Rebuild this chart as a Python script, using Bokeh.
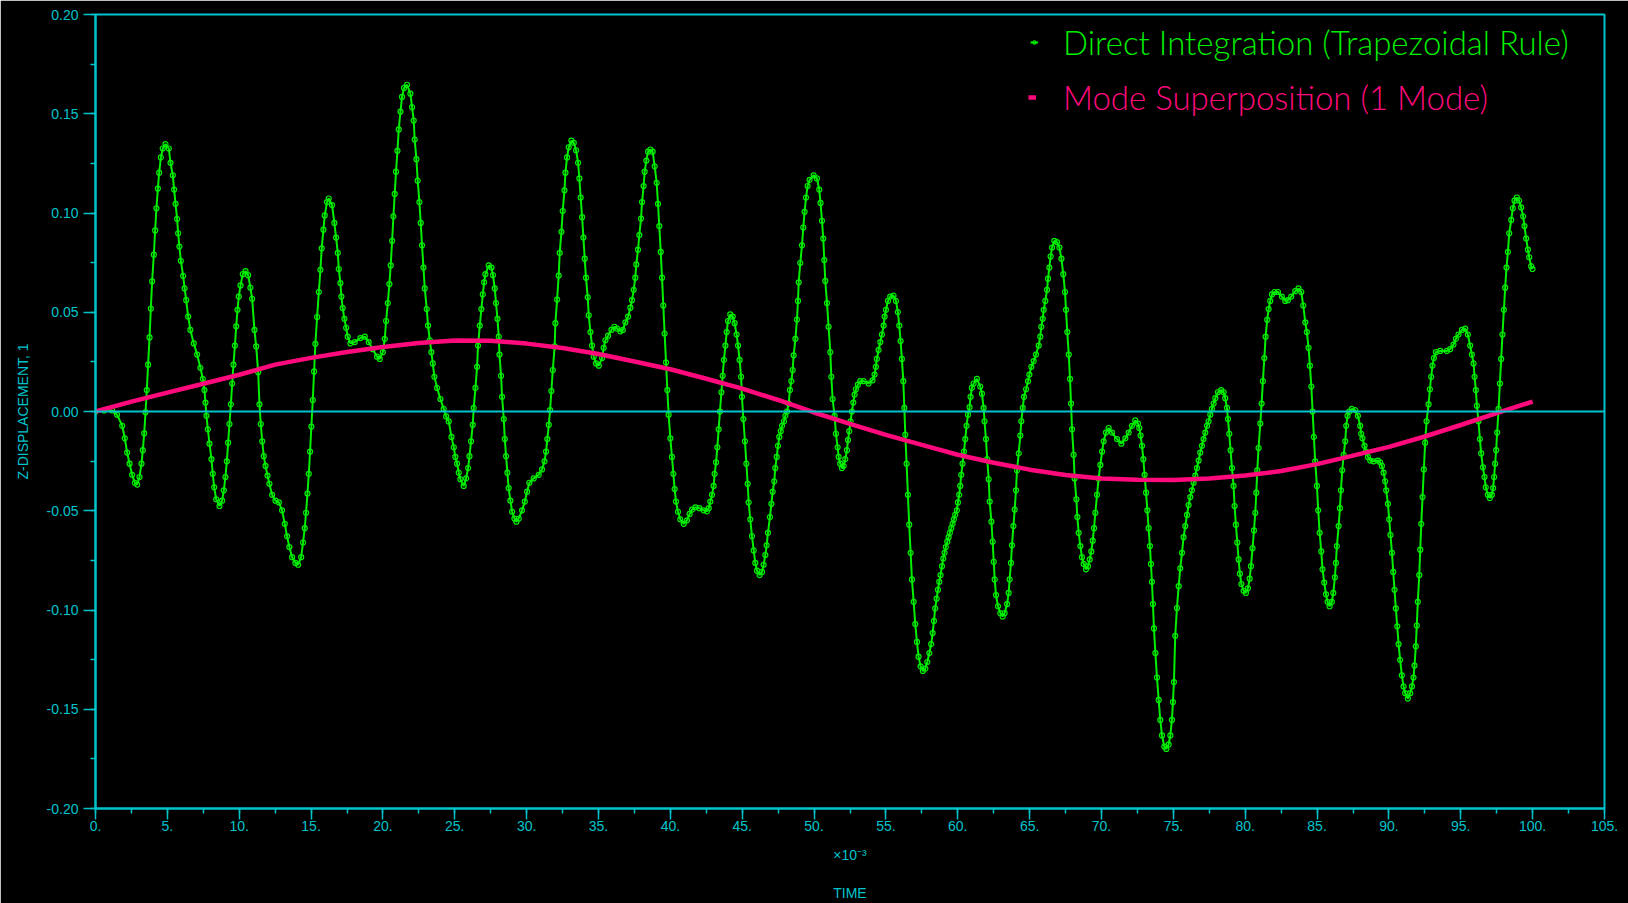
from bokeh.plotting import figure
from bokeh.models import (Range1d, FixedTicker, Span, Label, Legend, LegendItem,
                          PrintfTickFormatter)
from bokeh.embed import file_html
from bokeh.resources import INLINE

# ---------------------------------------------------------------- data
# Direct integration response, time in units of 1e-3 s
time_ms = [
    0.0, 0.6, 1.16, 1.5, 1.86, 2.04, 2.2, 2.37, 2.55, 2.74,
    2.9, 3.06, 3.2, 3.29, 3.39, 3.48, 3.57, 3.66, 3.76, 3.85,
    3.94, 4.06, 4.15, 4.24, 4.34, 4.43, 4.55, 4.68, 4.87, 5.1,
    5.22, 5.38, 5.47, 5.57, 5.68, 5.75, 5.84, 5.94, 6.1, 6.2,
    6.31, 6.45, 6.6, 6.84, 7.07, 7.3, 7.47, 7.58, 7.65, 7.72,
    7.82, 7.93, 8.07, 8.16, 8.26, 8.4, 8.63, 8.81, 8.93, 9.04,
    9.14, 9.23, 9.32, 9.42, 9.51, 9.6, 9.7, 9.79, 9.88, 9.97,
    10.09, 10.25, 10.44, 10.62, 10.78, 10.9, 11.06, 11.18, 11.32, 11.41,
    11.5, 11.6, 11.71, 11.83, 11.97, 12.1, 12.29, 12.52, 12.76,
    12.98, 13.17, 13.33, 13.49, 13.68, 13.91, 14.1, 14.31, 14.44, 14.56,
    14.65, 14.75, 14.84, 14.93, 15.02, 15.12, 15.21, 15.3, 15.42, 15.54,
    15.65, 15.74, 15.86, 15.95, 16.11, 16.23, 16.46, 16.62, 16.74, 16.86,
    16.93, 17.04, 17.11, 17.2, 17.32, 17.44, 17.55, 17.74, 18.04, 18.43,
    18.74, 19.01, 19.29, 19.59, 19.78, 19.99, 20.13, 20.22, 20.34, 20.45,
    20.54, 20.64, 20.73, 20.82, 20.91, 21.01, 21.1, 21.22, 21.33, 21.47,
    21.68, 21.91, 22.03, 22.14, 22.21, 22.33, 22.42, 22.54, 22.63, 22.72,
    22.82, 22.91, 23.05, 23.14, 23.26, 23.37, 23.47, 23.58, 23.77, 24.0,
    24.23, 24.4,
    24.58, 24.77, 24.93, 25.04, 25.16, 25.28, 25.39, 25.62, 25.79, 25.93,
    26.02, 26.13, 26.25, 26.32, 26.44, 26.55, 26.62, 26.74, 26.85, 26.95,
    27.04, 27.13, 27.36, 27.55, 27.66, 27.78, 27.87, 27.97, 28.06, 28.11,
    28.22, 28.29, 28.41, 28.48, 28.57, 28.66, 28.75, 28.87, 28.99, 29.15,
    29.29, 29.45, 29.68, 29.87, 30.03, 30.19, 30.49, 30.84, 31.07, 31.24,
    31.35, 31.44, 31.54, 31.63, 31.72, 31.82, 31.95, 32.0, 32.12, 32.23,
    32.3, 32.42, 32.51, 32.63, 32.7, 32.81, 32.93, 33.11, 33.28, 33.44,
    33.58, 33.67, 33.76, 33.86, 33.95, 34.04, 34.13, 34.25, 34.32, 34.44,
    34.55, 34.67, 34.83, 35.02, 35.25, 35.36, 35.48, 35.67, 35.9, 36.11,
    36.29, 36.52, 36.69, 36.87, 37.06,
    37.22, 37.33, 37.45, 37.56, 37.63, 37.75, 37.84, 37.96, 38.03, 38.14,
    38.21, 38.33, 38.45, 38.61, 38.77, 38.91, 39.05, 39.14, 39.23, 39.33,
    39.42, 39.51, 39.6, 39.7, 39.79, 39.88, 40.0, 40.11, 40.21, 40.3,
    40.39, 40.53, 40.69, 40.93, 41.16, 41.34, 41.51, 41.74, 42.02, 42.32,
    42.55, 42.67, 42.78, 42.9, 43.01, 43.08, 43.18, 43.27, 43.36, 43.45,
    43.55, 43.64, 43.73, 43.83, 43.92, 44.01, 44.17, 44.34, 44.47, 44.61,
    44.71, 44.82, 44.92, 44.98, 45.08, 45.19, 45.29, 45.38, 45.45, 45.56,
    45.68, 45.8, 45.91, 46.03, 46.21, 46.38, 46.49, 46.61, 46.7, 46.79,
    46.93, 47.03, 47.12, 47.23, 47.3, 47.4, 47.49, 47.58, 47.68, 47.77,
    47.91, 48.0, 48.12, 48.23, 48.32, 48.42, 48.51, 48.58, 48.7, 48.81,
    48.88, 48.93, 49.04, 49.16, 49.25, 49.34, 49.44, 49.55, 49.69, 49.97,
    50.2, 50.36, 50.45, 50.55, 50.64, 50.71, 50.78, 50.9, 51.01, 51.13,
    51.2, 51.29, 51.43, 51.52, 51.64, 51.71, 51.82, 51.94, 52.06, 52.17,
    52.29, 52.36, 52.45, 52.54, 52.63, 52.73, 52.82, 52.91, 53.05, 53.21,
    53.45, 53.79, 54.07, 54.21, 54.3, 54.37, 54.49, 54.61, 54.72, 54.84,
    54.91, 55.0, 55.14, 55.3, 55.53, 55.7, 55.83, 55.93, 56.02, 56.11,
    56.21, 56.28, 56.35, 56.44, 56.53, 56.62, 56.72, 56.81, 56.93, 57.04,
    57.16, 57.27, 57.41, 57.57, 57.74, 57.88, 58.02, 58.15, 58.25, 58.34,
    58.43, 58.53, 58.62, 58.71, 58.8, 58.9, 58.99, 59.08, 59.17, 59.27,
    59.36, 59.45, 59.55, 59.64, 59.73, 59.82, 59.94, 60.01, 60.1, 60.17,
    60.24, 60.33, 60.43, 60.52, 60.61, 60.71, 60.82, 60.89, 60.98, 61.1,
    61.33, 61.56, 61.68, 61.8, 61.86, 61.96, 62.05,
    62.15, 62.22, 62.34, 62.43, 62.5, 62.57, 62.66, 62.8, 62.96, 63.12,
    63.26, 63.43, 63.54, 63.61, 63.7, 63.77, 63.87, 63.96, 64.05, 64.12,
    64.24, 64.35, 64.42, 64.52, 64.61, 64.75, 64.89, 64.98, 65.12, 65.28,
    65.44, 65.63, 65.74, 65.81, 65.91, 65.98, 66.09, 66.21, 66.28, 66.37,
    66.46, 66.56, 66.72, 66.9, 67.07, 67.21, 67.34, 67.46, 67.53, 67.62,
    67.72, 67.81, 67.88, 67.95, 68.06, 68.13, 68.25, 68.32, 68.41, 68.53,
    68.64, 68.76, 68.92, 69.06, 69.18, 69.29, 69.39, 69.48, 69.57, 69.69,
    69.8, 69.92, 70.04, 70.15, 70.31, 70.5, 70.73, 71.08, 71.38, 71.66,
    71.89, 72.12, 72.35, 72.54, 72.63, 72.72, 72.82, 72.91, 73.0, 73.1,
    73.19, 73.28, 73.37, 73.44, 73.51, 73.58, 73.65, 73.75, 73.86, 73.98,
    74.09, 74.21, 74.37, 74.51, 74.67, 74.79, 74.9, 74.97, 75.04,
    75.13, 75.25, 75.37, 75.48, 75.6, 75.71, 75.83, 75.95, 76.06, 76.18,
    76.29, 76.41, 76.53, 76.64, 76.76, 76.87, 76.99, 77.1, 77.22, 77.34,
    77.45, 77.57, 77.68, 77.8, 77.92, 78.1, 78.33, 78.5, 78.61, 78.73,
    78.8, 78.89, 78.98, 79.08, 79.19, 79.26, 79.35, 79.45, 79.54, 79.63,
    79.73, 79.89, 80.05, 80.19, 80.31, 80.4, 80.51, 80.61, 80.7, 80.77,
    80.84, 80.93, 81.05, 81.14, 81.23, 81.33, 81.42, 81.53, 81.63, 81.74,
    81.86, 82.04, 82.28, 82.55, 82.79, 82.97, 83.2, 83.48, 83.71, 83.9,
    84.04, 84.18, 84.29, 84.41, 84.5, 84.6, 84.69, 84.78, 84.87, 84.99,
    85.08, 85.18, 85.29, 85.38, 85.5, 85.62, 85.73, 85.87, 86.03, 86.13,
    86.24, 86.31, 86.38, 86.5, 86.59, 86.66, 86.75, 86.85, 86.96, 87.03,
    87.12, 87.24, 87.42, 87.66, 87.84,
    88.0, 88.07, 88.16, 88.3, 88.4, 88.54, 88.7, 88.93, 89.23, 89.39,
    89.51, 89.63, 89.74, 89.81, 89.93, 90.02, 90.11, 90.21, 90.3, 90.39,
    90.48, 90.58, 90.67, 90.78, 90.9, 91.02, 91.13, 91.32, 91.48, 91.6,
    91.71, 91.78, 91.87, 91.94, 92.01, 92.11, 92.18, 92.25, 92.34, 92.43,
    92.52, 92.62, 92.76, 92.85, 92.94, 93.03, 93.13, 93.27, 93.57, 94.03,
    94.26, 94.49, 94.66, 94.84, 95.08, 95.31, 95.49, 95.65, 95.77, 95.89,
    95.96, 96.05, 96.12, 96.23, 96.33, 96.42, 96.54, 96.65, 96.74, 96.88,
    97.02, 97.16, 97.25, 97.32, 97.39, 97.46, 97.53, 97.63, 97.72, 97.81,
    97.9, 98.0, 98.09, 98.18, 98.28, 98.37, 98.51, 98.62, 98.74, 98.9,
    99.06, 99.2, 99.34, 99.43, 99.55, 99.67, 99.76, 99.9, 99.99,
]

z_direct = [
    0.0, 0.0005, 0.0005, -0.0016, -0.0072, -0.0135, -0.0207, -0.0263, -0.0319, -0.0359,
    -0.0368, -0.033, -0.0263, -0.0195, -0.011, -0.0004, 0.0108, 0.0236, 0.0373, 0.0519,
    0.0656, 0.079, 0.0912, 0.1024, 0.1123, 0.1203, 0.128, 0.1325, 0.1347, 0.1325,
    0.1253, 0.119, 0.1118, 0.1046, 0.097, 0.0898, 0.0831, 0.0759, 0.0683, 0.062,
    0.0561, 0.0478, 0.0411, 0.0343, 0.0287, 0.022, 0.0164, 0.0108, 0.0045, -0.0022,
    -0.009, -0.0162, -0.024, -0.0314, -0.0382, -0.0442, -0.0476, -0.0449, -0.0397, -0.033,
    -0.0251, -0.0157, -0.0063, 0.0036, 0.0141, 0.0236, 0.0332, 0.0429, 0.0512, 0.0579,
    0.0635, 0.0692, 0.0707, 0.0687, 0.0624, 0.0568, 0.0411, 0.0328, 0.0198, 0.0036,
    -0.0063, -0.015, -0.0225, -0.0274, -0.0323, -0.0364, -0.042, -0.0449, -0.0458,
    -0.0498, -0.0566, -0.0629, -0.0683, -0.0734, -0.0763, -0.0772, -0.0734, -0.066, -0.0588,
    -0.051, -0.0413, -0.0314, -0.0202, -0.0076, 0.0058, 0.0202, 0.0341, 0.0476, 0.0602,
    0.0714, 0.0822, 0.0916, 0.0988, 0.1055, 0.1073, 0.104, 0.095, 0.0876, 0.0799,
    0.0718, 0.0647, 0.0579, 0.0521, 0.0467, 0.0422, 0.0377, 0.0343, 0.035, 0.037,
    0.0377, 0.035, 0.0314, 0.0276, 0.0265, 0.0299, 0.0366, 0.0456, 0.0546, 0.0642,
    0.0736, 0.086, 0.0983, 0.1096, 0.1208, 0.1313, 0.1421, 0.1511, 0.1585, 0.163,
    0.1646, 0.1601, 0.1533, 0.1466, 0.137, 0.1271, 0.1163, 0.1055, 0.095, 0.0837,
    0.0725, 0.062, 0.0516, 0.0433, 0.0359, 0.0299, 0.0242, 0.0175, 0.0119, 0.0063,
    0.0013, -0.0025,
    -0.005, -0.0128, -0.018, -0.0229, -0.0263, -0.0308, -0.0341, -0.0375, -0.0337, -0.0285,
    -0.0225, -0.015, -0.0067, 0.0018, 0.0119, 0.0225, 0.0332, 0.0433, 0.0516, 0.059,
    0.0651, 0.0692, 0.0736, 0.0725, 0.0687, 0.062, 0.0546, 0.0467, 0.0377, 0.0287,
    0.018, 0.0074, -0.0038, -0.0139, -0.0225, -0.0308, -0.0386, -0.0449, -0.0505, -0.0539,
    -0.0555, -0.0539, -0.0498, -0.0454, -0.0404, -0.0359, -0.0337, -0.0319, -0.0292, -0.0251,
    -0.0202, -0.0139, -0.0067, 0.0007, 0.0103, 0.0209, 0.0328, 0.0445, 0.0564, 0.0685,
    0.0799, 0.0905, 0.101, 0.1114, 0.1203, 0.128, 0.1331, 0.1365, 0.1354, 0.1316,
    0.1253, 0.1174, 0.1078, 0.0979, 0.0876, 0.077, 0.0674, 0.0575, 0.0485, 0.04,
    0.0332, 0.0276, 0.0242, 0.0231, 0.0269, 0.0321, 0.0359, 0.0382, 0.0411, 0.0427,
    0.0418, 0.0404, 0.0411, 0.0449, 0.0478,
    0.0523, 0.0561, 0.0613, 0.0674, 0.0741, 0.0815, 0.0889, 0.0972, 0.1055, 0.1136,
    0.1208, 0.1264, 0.1309, 0.132, 0.1309, 0.1235, 0.1152, 0.1046, 0.0934, 0.0804,
    0.0674, 0.0534, 0.0393, 0.0247, 0.0108, -0.0016, -0.0135, -0.0229, -0.0314, -0.0391,
    -0.0454, -0.0505, -0.0543, -0.0566, -0.0548, -0.0516, -0.0494, -0.0483, -0.0487, -0.0498,
    -0.0503, -0.0487, -0.0454, -0.042, -0.0375, -0.0314, -0.0256, -0.018, -0.009, 0.0,
    0.0097, 0.018, 0.026, 0.0332, 0.04, 0.0456, 0.0489, 0.0478, 0.0445, 0.0388,
    0.0332, 0.026, 0.0175, 0.0074, -0.0038, -0.015, -0.0263, -0.0364, -0.0458, -0.0543,
    -0.0628, -0.07, -0.0763, -0.0802, -0.0824, -0.0808, -0.0772, -0.0723, -0.0674, -0.0611,
    -0.0532, -0.0465, -0.0404, -0.0352, -0.0285, -0.0229, -0.0173, -0.0128, -0.0099, -0.0072,
    -0.0049, -0.0022, 0.0, 0.004, 0.0108, 0.0153, 0.0209, 0.0283, 0.0366, 0.0463,
    0.0557, 0.0651, 0.0748, 0.0837, 0.0927, 0.1006, 0.1078, 0.1136, 0.1167, 0.119,
    0.1174, 0.1118, 0.1051, 0.0961, 0.0871, 0.0763, 0.0658, 0.0546, 0.0427, 0.0299,
    0.0175, 0.0063, -0.0022, -0.0112, -0.018, -0.0229, -0.0263, -0.0285, -0.0274, -0.024,
    -0.0195, -0.0144, -0.0099, -0.0049, 0.0, 0.0045, 0.0085, 0.0112, 0.0135, 0.0153,
    0.0153, 0.0141, 0.0157, 0.0186, 0.0225, 0.0265, 0.031, 0.035, 0.0388, 0.0433,
    0.0478, 0.0512, 0.0557, 0.0579, 0.0584, 0.0557, 0.0501, 0.0433, 0.0355, 0.0265,
    0.0153, 0.0018, -0.0117, -0.0263, -0.042, -0.057, -0.0712, -0.0846, -0.0959, -0.1071,
    -0.1161, -0.1235, -0.1284, -0.1307, -0.1295, -0.1262, -0.1217, -0.1172, -0.1116, -0.1055,
    -0.0992, -0.0943, -0.0898, -0.0858, -0.0824, -0.0779, -0.0741, -0.0712, -0.0683, -0.0656,
    -0.0633, -0.0611, -0.0588, -0.0566, -0.0543, -0.0521, -0.0498, -0.0458, -0.042, -0.0375,
    -0.0319, -0.0263, -0.0202, -0.0139, -0.0072, -0.0016, 0.0022, 0.0074, 0.0119, 0.0141,
    0.0164, 0.0126, 0.009, 0.0018, -0.0049, -0.0139, -0.024,
    -0.0341, -0.0454, -0.0555, -0.0656, -0.0757, -0.0846, -0.0925, -0.0981, -0.1015, -0.1033,
    -0.1015, -0.097, -0.0914, -0.0846, -0.0763, -0.0674, -0.0577, -0.0494, -0.0397, -0.0296,
    -0.0211, -0.0121, -0.0049, 0.0018, 0.0074, 0.0112, 0.0153, 0.0186, 0.0225, 0.0254,
    0.0287, 0.0332, 0.0377, 0.0427, 0.0467, 0.0512, 0.0557, 0.0613, 0.0669, 0.0725,
    0.0781, 0.0826, 0.086, 0.0853, 0.0826, 0.077, 0.0692, 0.0602, 0.0512, 0.04,
    0.0287, 0.0164, 0.004, -0.009, -0.0218, -0.0337, -0.0442, -0.0532, -0.0611, -0.0678,
    -0.0734, -0.0768, -0.0795, -0.0779, -0.0745, -0.0705, -0.0651, -0.0588, -0.051, -0.042,
    -0.0337, -0.0269, -0.0202, -0.015, -0.0106, -0.0083, -0.0106, -0.0139, -0.0162, -0.0135,
    -0.0106, -0.0072, -0.0045, -0.0061, -0.0083, -0.0121, -0.0173, -0.024, -0.0319, -0.0409,
    -0.0498, -0.0588, -0.0678, -0.0768, -0.0858, -0.097, -0.1093, -0.1217, -0.134, -0.1453,
    -0.1554, -0.1632, -0.1688, -0.17, -0.1677, -0.1632, -0.1554, -0.1464, -0.1363,
    -0.113, -0.099, -0.088, -0.079, -0.0712, -0.0633, -0.0577, -0.0521, -0.0471, -0.0431,
    -0.0397, -0.0359, -0.0323, -0.0285, -0.0247, -0.0207, -0.0173, -0.0139, -0.0106, -0.0072,
    -0.0049, -0.0016, 0.0013, 0.004, 0.0067, 0.0097, 0.0108, 0.0097, 0.0067, 0.0018,
    -0.0038, -0.0112, -0.0195, -0.0285, -0.0375, -0.0476, -0.057, -0.066, -0.0745, -0.0817,
    -0.0869, -0.0903, -0.0914, -0.0891, -0.0842, -0.0779, -0.0689, -0.0599, -0.051, -0.0409,
    -0.0296, -0.0184, -0.0061, 0.004, 0.0153, 0.0269, 0.0377, 0.0462, 0.0516, 0.0557,
    0.059, 0.0602, 0.0602, 0.0579, 0.0557, 0.0561, 0.0579, 0.0606, 0.062, 0.0602,
    0.0534, 0.0449, 0.04, 0.0321, 0.0231, 0.0126, 0.0, -0.0128, -0.0251, -0.0375,
    -0.0498, -0.0611, -0.0705, -0.0795, -0.0862, -0.0921, -0.0959, -0.0981, -0.0959, -0.0914,
    -0.0835, -0.0763, -0.0678, -0.0577, -0.0487, -0.0397, -0.0296, -0.0218, -0.015, -0.0072,
    -0.0022, 0.0, 0.0013, 0.0007, -0.0022,
    -0.0072, -0.0112, -0.0135, -0.0173, -0.0202, -0.0229, -0.0247, -0.0251, -0.0247, -0.0256,
    -0.0274, -0.0308, -0.0352, -0.0397, -0.0465, -0.0543, -0.0622, -0.0712, -0.0808, -0.0898,
    -0.0992, -0.1082, -0.1172, -0.1251, -0.1329, -0.1385, -0.1419, -0.1446, -0.1419, -0.1385,
    -0.134, -0.128, -0.1183, -0.1078, -0.0959, -0.0824, -0.0696, -0.0566, -0.0431, -0.0292,
    -0.0157, -0.0049, 0.0036, 0.0112, 0.0175, 0.0231, 0.0269, 0.0299, 0.0305, 0.0305,
    0.0314, 0.0337, 0.0366, 0.0388, 0.0411, 0.0418, 0.0388, 0.0332, 0.0287, 0.0242,
    0.0175, 0.0108, 0.0029, -0.0049, -0.0139, -0.0211, -0.0281, -0.033, -0.0382, -0.042,
    -0.0436, -0.042, -0.0386, -0.033, -0.0263, -0.0195, -0.0106, 0.0013, 0.0141, 0.0265,
    0.0388, 0.0512, 0.0624, 0.0725, 0.0804, 0.0898, 0.0965, 0.1024, 0.1062, 0.1078,
    0.1062, 0.1028, 0.0983, 0.0934, 0.0871, 0.0815, 0.0777, 0.0732, 0.0718,
]

# Single-mode superposition response
mode_time_ms = [
    0.0, 2.5, 5.0, 7.5, 10.0, 12.5, 15.0, 17.5, 20.0, 22.5,
    25.0, 27.5, 30.0, 32.5, 35.0, 37.5, 40.0, 42.5, 45.0, 47.5,
    50.0, 52.5, 55.0, 57.5, 60.0, 62.5, 65.0, 67.5, 70.0, 72.5,
    75.0, 77.5, 80.0, 82.5, 85.0, 87.5, 90.0, 92.5, 95.0, 97.5, 100.0,
]
z_mode = [
    0.0, 0.005, 0.0095, 0.014, 0.0185, 0.0236, 0.027, 0.03, 0.0325, 0.0345,
    0.0358, 0.0357, 0.0342, 0.032, 0.029, 0.0252, 0.0213, 0.0165, 0.0115, 0.0058,
    -0.0005, -0.0062, -0.0118, -0.0168, -0.0218, -0.0258, -0.0293, -0.032, -0.0337, -0.0344,
    -0.0345, -0.0338, -0.0322, -0.03, -0.0265, -0.0222, -0.0178, -0.0126, -0.0068, -0.0008, 0.005,
]

assert len(time_ms) == len(z_direct)
assert len(mode_time_ms) == len(z_mode)

x_major = [5 * i for i in range(22)]
x_minor = [2.5 * i for i in range(43)]
y_major = [-0.2, -0.15, -0.1, -0.05, 0.0, 0.05, 0.1, 0.15, 0.2]
y_minor = [-0.2 + 0.025 * i for i in range(17)]

# ---------------------------------------------------------------- style
CYAN = "#00c4cc"
GREEN = "#00ee00"
PINK = "#ff0a7c"
AXIS_FONT = "Liberation Sans"
LEGEND_FONT = "Lato Light"

p = figure(width=1628, height=903, output_backend="svg", toolbar_location=None,
           x_range=Range1d(0, 105), y_range=Range1d(-0.2, 0.2),
           min_border_left=95, min_border_right=24, min_border_top=14,
           min_border_bottom=92)
p.background_fill_color = "black"
p.border_fill_color = "black"
p.outline_line_color = CYAN
p.outline_line_width = 2
p.xgrid.visible = False
p.ygrid.visible = False

for ax in (p.xaxis[0], p.yaxis[0]):
    ax.axis_line_color = CYAN
    ax.axis_line_width = 2
    ax.major_tick_line_color = CYAN
    ax.minor_tick_line_color = CYAN
    ax.major_tick_line_width = 1.5
    ax.minor_tick_line_width = 1.5
    ax.major_tick_in = 0
    ax.minor_tick_in = 0
    ax.major_label_text_color = CYAN
    ax.major_label_text_font = AXIS_FONT
    ax.major_label_text_font_size = "14px"
    ax.axis_label_text_color = CYAN
    ax.axis_label_text_font = AXIS_FONT
    ax.axis_label_text_font_size = "14px"
    ax.axis_label_text_font_style = "normal"

p.xaxis.ticker = FixedTicker(ticks=x_major, minor_ticks=x_minor)
p.xaxis.major_label_overrides = {t: f"{t}." for t in x_major}
p.xaxis.major_tick_out = 11
p.xaxis.minor_tick_out = 5
p.xaxis.major_label_standoff = 1
p.xaxis.major_label_text_align = "right"
# multiplier line sits above the axis title
p.xaxis.axis_label = "\u00d710\u207b\u00b3\n\nTIME"
p.xaxis.axis_label_standoff = 13

p.yaxis.ticker = FixedTicker(ticks=y_major, minor_ticks=y_minor)
p.yaxis.formatter = PrintfTickFormatter(format="%.2f")
p.yaxis.major_tick_out = 12
p.yaxis.minor_tick_out = 5
p.yaxis.major_label_standoff = 5
p.yaxis.axis_label = "Z-DISPLACEMENT, 1"
p.yaxis.axis_label_standoff = 13

p.add_layout(Span(location=0, dimension="width", line_color=CYAN, line_width=2))

# ---------------------------------------------------------------- series
direct_line = p.line(time_ms, z_direct, line_color=GREEN, line_width=2)
direct_pts = p.scatter(time_ms, z_direct, marker="circle", size=5,
                       line_color=GREEN, line_width=1.2, fill_color=None)
mode_line = p.line(mode_time_ms, z_mode, line_color=PINK, line_width=4.5)

# ---------------------------------------------------------------- legend
def make_legend(label, renderers, color, loc, standoff):
    leg = Legend(items=[LegendItem(label=label, renderers=renderers)],
                 location=loc, orientation="vertical",
                 padding=0, margin=0, spacing=0,
                 glyph_width=8, glyph_height=40, label_height=40,
                 label_standoff=standoff,
                 label_text_color=color, label_text_font=LEGEND_FONT,
                 label_text_font_size="33px",
                 background_fill_alpha=0, border_line_alpha=0)
    p.add_layout(leg)

make_legend("Direct Integration (Trapezoidal Rule)", [direct_line, direct_pts],
            GREEN, (935, 746), 25)
make_legend("Mode Superposition (1 Mode)", [mode_line], PINK, (933, 691), 27)

# ---------------------------------------------------------------- title
p.add_layout(Label(x=52.55, y=0.2057, text="RESPONSE GRAPH",
                   text_color=CYAN, text_font=AXIS_FONT,
                   text_font_size="15px", text_align="center",
                   text_baseline="bottom"))

open("out.html", "w").write(file_html(p, INLINE))
